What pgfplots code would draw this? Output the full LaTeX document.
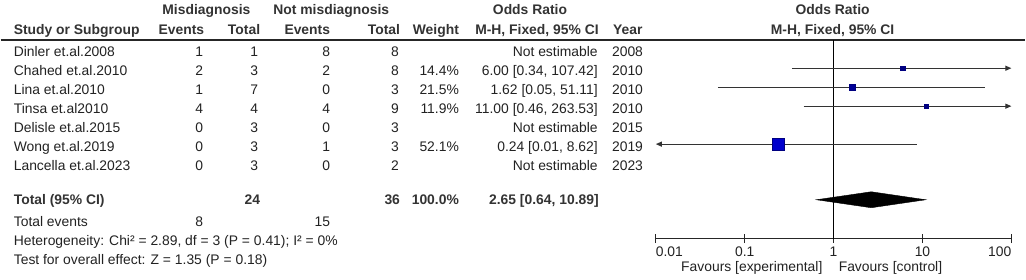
\documentclass[border=0pt]{standalone}
\usepackage{fontspec}
\setmainfont{Liberation Sans}
\usepackage{pgfplots}
\pgfplotsset{compat=1.18}
\usetikzlibrary{arrows.meta}
\definecolor{txt}{HTML}{222222}
\definecolor{btxt}{HTML}{333333}
\definecolor{navysq}{HTML}{000080}
\definecolor{bluesq}{HTML}{0000CC}
\definecolor{ciline}{HTML}{333333}
\newcommand\tf{\fontsize{13.9bp}{16bp}\selectfont}
\newcommand\Lt[3]{\node[anchor=base west,inner sep=0pt,text=txt,font=\tf] at (#1,#2) {#3};}
\newcommand\Rt[3]{\node[anchor=base east,inner sep=0pt,text=txt,font=\tf] at (#1,#2) {#3};}
\newcommand\Ct[3]{\node[anchor=base,inner sep=0pt,text=txt,font=\tf] at (#1,#2) {#3};}
\newcommand\Lb[3]{\node[anchor=base west,inner sep=0pt,text=btxt,font=\tf\bfseries] at (#1,#2) {#3};}
\newcommand\Rb[3]{\node[anchor=base east,inner sep=0pt,text=btxt,font=\tf\bfseries] at (#1,#2) {#3};}
\newcommand\Cb[3]{\node[anchor=base,inner sep=0pt,text=btxt,font=\tf\bfseries] at (#1,#2) {#3};}
\begin{document}
\begin{tikzpicture}
\path (0bp,0bp) rectangle (1026bp,-280bp);
\begin{scope}[x=1bp,y=-1bp]
% header
\Cb{206}{15}{Misdiagnosis}
\Cb{331}{15}{Not misdiagnosis}
\Cb{530}{15}{Odds Ratio}
\Cb{833}{15}{Odds Ratio}
\Lb{13}{35}{Study or Subgroup}
\Rb{204}{35}{Events}
\Rb{260}{35}{Total}
\Rb{330}{35}{Events}
\Rb{400}{35}{Total}
\Rb{459}{35}{Weight}
\Rb{599}{35}{M-H, Fixed, 95\% CI}
\Lb{613}{35}{Year}
\Cb{833}{35}{M-H, Fixed, 95\% CI}
\draw[line width=1.3bp,black!85] (0,40) -- (1026,40);
% rows
\Lt{13}{56.5}{Dinler et.al.2008}
\Rt{203}{56.5}{1}\Rt{258}{56.5}{1}\Rt{330}{56.5}{8}\Rt{399}{56.5}{8}
\Rt{598}{56.5}{Not estimable}\Lt{612}{56.5}{2008}
\Lt{13}{75.5}{Chahed et.al.2010}
\Rt{203}{75.5}{2}\Rt{258}{75.5}{3}\Rt{330}{75.5}{2}\Rt{399}{75.5}{8}
\Rt{459}{75.5}{14.4\%}\Rt{598}{75.5}{6.00 [0.34, 107.42]}\Lt{612}{75.5}{2010}
\Lt{13}{94.5}{Lina et.al.2010}
\Rt{203}{94.5}{1}\Rt{258}{94.5}{7}\Rt{330}{94.5}{0}\Rt{399}{94.5}{3}
\Rt{459}{94.5}{21.5\%}\Rt{598}{94.5}{1.62 [0.05, 51.11]}\Lt{612}{94.5}{2010}
\Lt{13}{113.5}{Tinsa et.al2010}
\Rt{203}{113.5}{4}\Rt{258}{113.5}{4}\Rt{330}{113.5}{4}\Rt{399}{113.5}{9}
\Rt{459}{113.5}{11.9\%}\Rt{598}{113.5}{11.00 [0.46, 263.53]}\Lt{612}{113.5}{2010}
\Lt{13}{132.5}{Delisle et.al.2015}
\Rt{203}{132.5}{0}\Rt{258}{132.5}{3}\Rt{330}{132.5}{0}\Rt{399}{132.5}{3}
\Rt{598}{132.5}{Not estimable}\Lt{612}{132.5}{2015}
\Lt{13}{151.5}{Wong et.al.2019}
\Rt{203}{151.5}{0}\Rt{258}{151.5}{3}\Rt{330}{151.5}{1}\Rt{399}{151.5}{3}
\Rt{459}{151.5}{52.1\%}\Rt{598}{151.5}{0.24 [0.01, 8.62]}\Lt{612}{151.5}{2019}
\Lt{13}{170.5}{Lancella et.al.2023}
\Rt{203}{170.5}{0}\Rt{258}{170.5}{3}\Rt{330}{170.5}{0}\Rt{399}{170.5}{2}
\Rt{598}{170.5}{Not estimable}\Lt{612}{170.5}{2023}
% totals
\Lb{13}{205}{Total (95\% CI)}
\Rb{260}{205}{24}\Rb{400}{205}{36}\Rb{459}{205}{100.0\%}\Rb{599}{205}{2.65 [0.64, 10.89]}
\Lt{13}{226.5}{Total events}
\Rt{203}{226.5}{8}\Rt{330}{226.5}{15}
\Lt{13}{246}{Heterogeneity: Chi² = 2.89, df = 3 (P = 0.41); I² = 0\%}
\Lt{13}{265}{Test for overall effect: Z = 1.35 (P = 0.18)}
\Rt{823}{272}{Favours [experimental]}
\Lt{839}{272}{Favours [control]}
\end{scope}
\begin{axis}[
  at={(656bp,-239bp)}, anchor=south west,
  scale only axis, width=356bp, height=199bp,
  xmode=log, xmin=0.01, xmax=100, ymin=-239, ymax=-40,
  axis x line=bottom, axis y line=none,
  axis line style={-, line width=1bp, black!85},
  xtick={0.01,0.1,1,10,100},
  xticklabels={\makebox[0pt][l]{0.01},0.1,1,10,\makebox[0pt][r]{100}},
  minor x tick style={draw=none},
  major tick length=9bp, tick align=center,
  tick style={line width=1bp, black!85},
  xticklabel style={anchor=base, yshift=-13bp, font=\tf, text=txt},
  /pgf/number format/assume math mode=true,
  clip=false,
]
% null line
\addplot[black, line width=1bp] coordinates {(1,-40) (1,-239)};
% CIs
\addplot[ciline, line width=1bp, -{Triangle[length=6bp,width=5bp]}] coordinates {(0.34,-68.3) (100,-68.3)};
\addplot[ciline, line width=1bp] coordinates {(0.05,-87.3) (51.11,-87.3)};
\addplot[ciline, line width=1bp, -{Triangle[length=6bp,width=5bp]}] coordinates {(0.46,-106.3) (100,-106.3)};
\addplot[ciline, line width=1bp, {Triangle[length=6bp,width=5bp]}-] coordinates {(0.01,-144.3) (8.62,-144.3)};
% squares
\addplot[only marks, mark=square*, mark size=2.2bp, mark options={fill=navysq, draw=navysq}] coordinates {(6.00,-68.3)};
\addplot[only marks, mark=square*, mark size=2.8bp, mark options={fill=navysq!70!bluesq, draw=navysq}] coordinates {(1.62,-87.3)};
\addplot[only marks, mark=square*, mark size=2.1bp, mark options={fill=navysq, draw=navysq}] coordinates {(11.00,-106.3)};
\addplot[only marks, mark=square*, mark size=6bp, mark options={fill=bluesq, draw=navysq, line width=0.6bp}] coordinates {(0.24,-144.3)};
% diamond
\addplot[fill=black, draw=black] coordinates {(0.64,-200) (2.65,-192) (10.89,-200) (2.65,-208)} -- cycle;
\end{axis}
\end{tikzpicture}
\end{document}
